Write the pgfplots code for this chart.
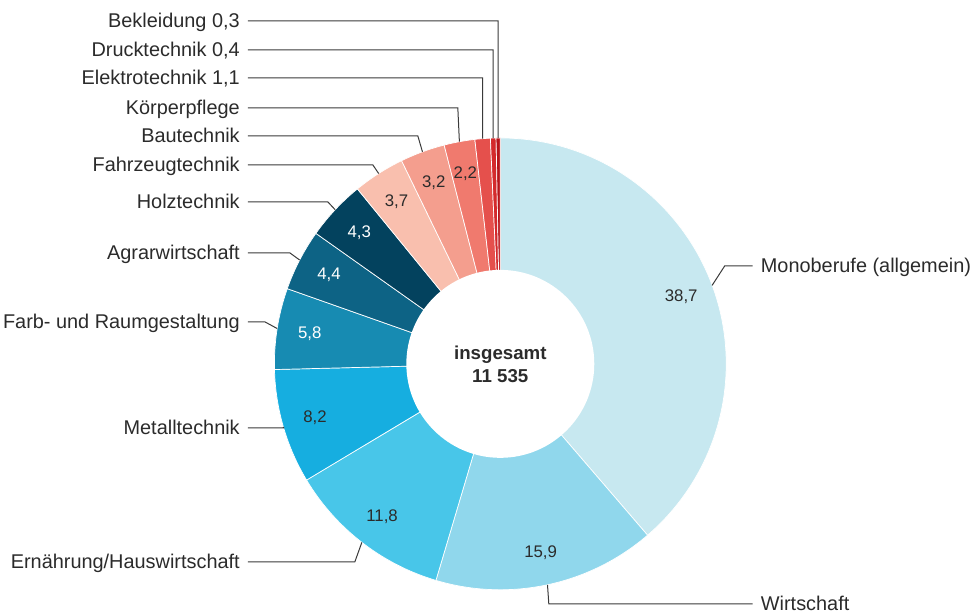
\documentclass[border=0pt]{standalone}
\usepackage{pgfplots}
\pgfplotsset{compat=1.18}
\usepackage{pgfplotstable}
\usepackage{fontspec}
\setmainfont{Liberation Sans}
\definecolor{c0}{HTML}{C7E8F0}
\definecolor{c1}{HTML}{90D7EC}
\definecolor{c2}{HTML}{48C6E9}
\definecolor{c3}{HTML}{16AEE0}
\definecolor{c4}{HTML}{178BB2}
\definecolor{c5}{HTML}{0D6385}
\definecolor{c6}{HTML}{03425E}
\definecolor{c7}{HTML}{F9BFAE}
\definecolor{c8}{HTML}{F49E8E}
\definecolor{c9}{HTML}{F07A6E}
\definecolor{c10}{HTML}{E5504C}
\definecolor{c11}{HTML}{D42A2C}
\definecolor{c12}{HTML}{B8141A}
\definecolor{tdark}{HTML}{2B2B2B}
\definecolor{lc}{HTML}{3A3A3A}
\tikzset{
  leader/.style={draw=lc,line width=1pt},
  lab/.style={font=\fontsize{19.9}{23}\selectfont,text=tdark,inner sep=0pt},
  val/.style={font=\fontsize{16.8}{20}\selectfont,inner sep=0pt},
}
\pgfplotstableread[col sep=semicolon]{
val;txt;tc;lab;ex;ey;lx;tx;anc
38.7;38,7;tdark;Monoberufe (allgemein);725;266;753;761;base west
15.9;15,9;tdark;Wirtschaft;549;604;753;761;base west
11.8;11,8;tdark;Ernährung/Hauswirtschaft;355;562;248;240;base east
8.2;8,2;tdark;Metalltechnik;283.8;428;248;240;base east
5.8;5,8;white;Farb- und Raumgestaltung;265;322;248;240;base east
4.4;4,4;white;Agrarwirtschaft;290;253;248;240;base east
4.3;4,3;white;Holztechnik;328;202;248;240;base east
3.7;3,7;tdark;Fahrzeugtechnik;373;165;248;240;base east
3.2;3,2;tdark;Bautechnik;418;136;248;240;base east
2.2;2,2;tdark;Körperpflege;458;108;248;240;base east
1.1;-;tdark;Elektrotechnik 1,1;482.8;78;248;240;base east
0.4;-;tdark;Drucktechnik 0,4;493.4;50;248;240;base east
0.3;-;tdark;Bekleidung 0,3;498.4;21;248;240;base east
}\data
\begin{document}
\begin{tikzpicture}
\def\cum{0}%
\gdef\wedges{}\gdef\leaders{}\gdef\values{}%
\pgfplotsforeachungrouped \i in {0,...,12}{%
  \pgfplotstablegetelem{\i}{val}\of\data \let\vv\pgfplotsretval
  \pgfmathsetmacro\sa{90-3.6*\cum}%
  \pgfmathsetmacro\cum{\cum+\vv}%
  \pgfmathsetmacro\ea{90-3.6*\cum}%
  \pgfmathsetmacro\ma{(\sa+\ea)/2}%
  \pgfmathsetmacro\ox{500.5+226*cos(\ma)}%
  \pgfmathsetmacro\oy{250+226*sin(\ma)}%
  \pgfmathsetmacro\vx{500.5+193*cos(\ma)}%
  \pgfmathsetmacro\vy{250+193*sin(\ma)}%
  \pgfplotstablegetelem{\i}{txt}\of\data \let\vt\pgfplotsretval
  \pgfplotstablegetelem{\i}{tc}\of\data \let\tcol\pgfplotsretval
  \pgfplotstablegetelem{\i}{lab}\of\data \let\lab\pgfplotsretval
  \pgfplotstablegetelem{\i}{ex}\of\data \let\exx\pgfplotsretval
  \pgfplotstablegetelem{\i}{ey}\of\data \pgfmathsetmacro\eyy{614-\pgfplotsretval}%
  \pgfmathsetmacro\byy{\eyy-7}%
  \pgfplotstablegetelem{\i}{lx}\of\data \let\lxx\pgfplotsretval
  \pgfplotstablegetelem{\i}{tx}\of\data \let\txx\pgfplotsretval
  \pgfplotstablegetelem{\i}{anc}\of\data \let\anc\pgfplotsretval
  \xdef\wedges{\unexpanded\expandafter{\wedges}%
    \noexpand\fill[c\i,draw=white,line width=0.7pt] (axis cs:500.5,250) -- ++(\sa:226pt) arc[start angle=\sa,end angle=\ea,radius=226pt] -- cycle;}%
  \xdef\leaders{\unexpanded\expandafter{\leaders}%
    \noexpand\draw[leader] (axis cs:\ox,\oy) -- (axis cs:\exx,\eyy) -- (axis cs:\lxx,\eyy);%
    \noexpand\node[lab,anchor=\anc] at (axis cs:\txx,\byy) {\unexpanded\expandafter{\lab}};}%
  \ifnum\i<10
    \xdef\values{\unexpanded\expandafter{\values}%
      \noexpand\node[val,text=\tcol] at (axis cs:\vx,\vy) {\vt};}%
  \fi
}%
\begin{axis}[x=1pt,y=1pt,xmin=0,xmax=971,ymin=0,ymax=614,hide axis,clip=false]
\addplot[draw=none,forget plot] coordinates {(0,0) (971,614)};
\path (axis cs:0,0) rectangle (axis cs:971,614);
\wedges
\fill[white] (axis cs:500.5,250) circle[radius=94pt];
\values
\leaders
\node[font=\bfseries\fontsize{18.7}{22}\selectfont,text=tdark,inner sep=0pt,anchor=base] at (axis cs:500.5,254) {insgesamt};
\node[font=\bfseries\fontsize{18.7}{22}\selectfont,text=tdark,inner sep=0pt,anchor=base] at (axis cs:500.5,231) {11 535};
\end{axis}
\end{tikzpicture}
\end{document}
